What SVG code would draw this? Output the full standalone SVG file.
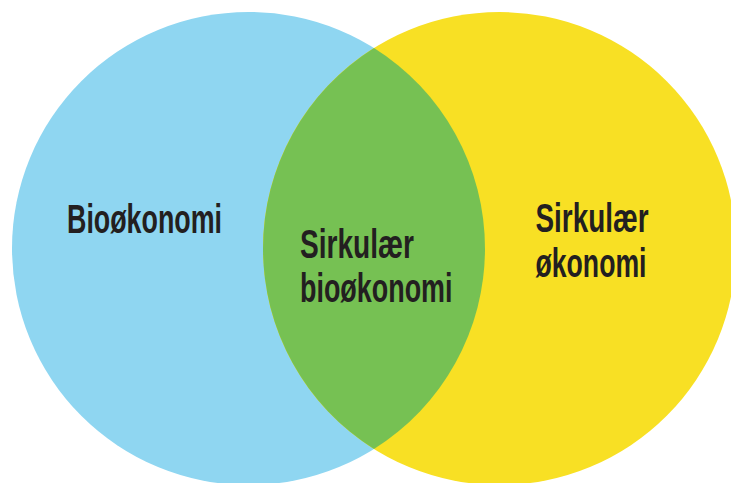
<svg xmlns="http://www.w3.org/2000/svg" width="731" height="483" viewBox="0 0 731 483">
<style>
text{font-family:"Liberation Sans","DejaVu Sans Condensed",sans-serif;font-size:40px;font-weight:bold;fill:#231F20}
</style>
<rect width="731" height="483" fill="#ffffff"/>
<g id="bio">
<circle cx="248.5" cy="248.5" r="236.5" fill="#8FD6F1"/>
<text x="67" y="232.5" textLength="155" lengthAdjust="spacingAndGlyphs">Bioøkonomi</text>
</g>
<g id="sirk">
<circle cx="499.5" cy="248.5" r="236.5" fill="#F8E024"/>
<text x="535.5" y="231.8" textLength="113" lengthAdjust="spacingAndGlyphs">Sirkulær</text>
<text x="535.5" y="277.3" textLength="111" lengthAdjust="spacingAndGlyphs">økonomi</text>
</g>
<g id="overlap">
<path d="M374,48.05 A236.5,236.5 0 0 1 374,448.95 A236.5,236.5 0 0 1 374,48.05 Z" fill="#76C153"/>
<text x="300" y="257.8" textLength="114" lengthAdjust="spacingAndGlyphs">Sirkulær</text>
<text x="300" y="302.4" textLength="152.5" lengthAdjust="spacingAndGlyphs">bioøkonomi</text>
</g>
<g id="connectors"/>
</svg>
